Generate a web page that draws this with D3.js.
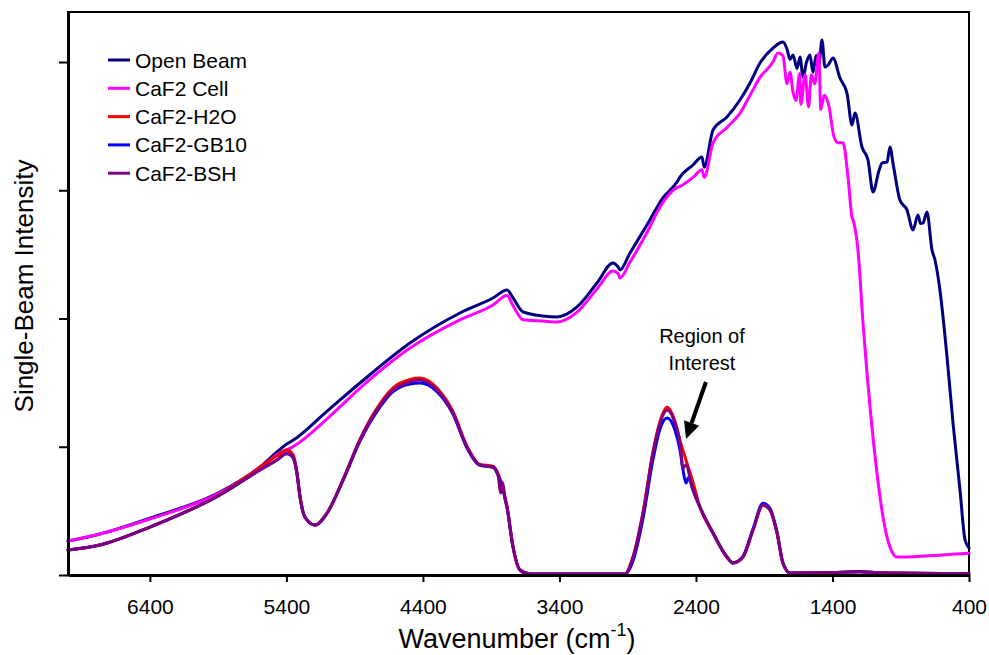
<!DOCTYPE html>
<html>
<head>
<meta charset="utf-8">
<script src="https://cdn.jsdelivr.net/npm/d3@7/dist/d3.min.js"></script>
<style>
  html, body { margin: 0; padding: 0; background: #fff; }
  svg text { font-family: Arial, "Liberation Sans", sans-serif; fill: #000; }
</style>
</head>
<body>
<svg id="chart" width="989" height="655"></svg>
<script>
// Single-beam spectra, [wavenumber (cm-1), intensity (arb. units)]
const openBeam = [
  [7000,0.265],[6766,0.32],[6400,0.444],[5887,0.647],[5594,0.842],[5469,0.959],[5400,1.02],[5352,1.05],
  [5100,1.28],[4861,1.497],[4495,1.809],[4129,2.043],[3887,2.16],[3784,2.222],[3740,2.16],[3667,2.051],
  [3521,2.019],[3418,2.012],[3271,2.09],[3125,2.277],[3008,2.433],[2970,2.40],[2957,2.378],[2883,2.511],
  [2759,2.729],[2642,2.94],[2539,3.064],[2517,3.103],[2422,3.197],[2356,3.259],[2340,3.18],[2275,3.47],
  [2173,3.571],[2078,3.704],[2004,3.836],[1931,3.992],[1836,4.109],[1763,4.156],[1733,4.10],[1711,4.02],
  [1689,4.055],[1660,3.95],[1638,4.04],[1616,3.883],[1590,4.00],[1565,4.055],[1543,3.92],[1520,4.05],
  [1500,3.98],[1477,4.172],[1455,3.961],[1430,3.98],[1396,4.031],[1345,3.875],[1294,3.758],[1257,3.509],
  [1235,3.602],[1184,3.337],[1140,3.236],[1103,2.986],[1060,3.15],[1037,3.212],[1000,3.22],[979,3.337],
  [955,3.20],[906,2.924],[854,2.846],[810,2.69],[774,2.807],[755,2.74],[737,2.745],[708,2.83],[671,2.534],
  [649,2.456],[613,2.222],[561,1.70],[517,1.185],[466,0.663],[429,0.273],[400,0.211]
];
const caf2Cell = [
  [7000,0.265],[6766,0.32],[6400,0.437],[5887,0.64],[5594,0.83],[5469,0.94],[5352,1.0],[5100,1.22],
  [4861,1.458],[4495,1.77],[4129,1.99],[3887,2.105],[3784,2.18],[3740,2.10],[3667,1.99],[3521,1.98],
  [3418,1.973],[3271,2.05],[3125,2.23],[3008,2.37],[2970,2.35],[2957,2.316],[2883,2.44],[2759,2.67],
  [2663,2.87],[2539,3.02],[2517,3.03],[2422,3.10],[2356,3.16],[2340,3.10],[2275,3.37],[2173,3.49],
  [2078,3.60],[2004,3.74],[1931,3.88],[1836,4.00],[1800,4.07],[1763,4.05],[1733,3.83],[1711,3.92],
  [1690,3.77],[1668,3.70],[1640,3.91],[1632,3.67],[1601,3.90],[1575,3.65],[1555,3.90],[1530,3.83],
  [1500,4.07],[1486,3.63],[1460,3.74],[1425,3.65],[1390,3.42],[1360,3.37],[1323,3.37],[1286,3.10],
  [1257,2.79],[1250,2.77],[1213,2.53],[1176,1.96],[1125,1.31],[1074,0.795],[1030,0.452],[979,0.218],
  [927,0.14],[700,0.15],[400,0.17]
];
const caf2H2O = [
  [7000,0.195],[6766,0.234],[6400,0.374],[5887,0.63],[5594,0.84],[5469,0.93],[5396,0.975],[5352,0.94],
  [5323,0.80],[5300,0.608],[5264,0.452],[5191,0.39],[5103,0.483],[4986,0.741],[4861,1.06],[4737,1.30],
  [4619,1.46],[4495,1.525],[4422,1.536],[4297,1.458],[4180,1.275],[4077,1.005],[3982,0.862],[3887,0.848],
  [3835,0.75],[3784,0.535],[3740,0.218],[3689,0.039],[3616,0.008],[2920,0.008],[2861,0.14],[2788,0.49],
  [2715,0.96],[2663,1.20],[2612,1.31],[2554,1.20],[2517,1.05],[2466,0.873],[2429,0.75],[2371,0.53],
  [2275,0.327],[2173,0.14],[2129,0.094],[2056,0.14],[1982,0.351],[1909,0.546],[1858,0.507],[1806,0.327],
  [1763,0.094],[1711,0.016],[1400,0.02],[1200,0.025],[1000,0.015],[400,0.01]
];
const caf2GB10 = [
  [7000,0.195],[6766,0.234],[6400,0.374],[5887,0.624],[5594,0.819],[5469,0.897],[5396,0.945],[5352,0.915],
  [5323,0.79],[5300,0.605],[5264,0.45],[5191,0.388],[5103,0.48],[4986,0.735],[4861,1.045],[4737,1.275],
  [4619,1.43],[4495,1.49],[4422,1.497],[4297,1.43],[4180,1.255],[4077,0.99],[3982,0.855],[3887,0.84],
  [3835,0.735],[3784,0.525],[3740,0.218],[3689,0.039],[3616,0.008],[2920,0.008],[2861,0.11],[2788,0.44],
  [2715,0.90],[2663,1.14],[2612,1.224],[2554,1.13],[2517,0.975],[2495,0.82],[2473,0.717],[2451,0.764],
  [2429,0.686],[2371,0.53],[2275,0.327],[2173,0.14],[2129,0.094],[2056,0.145],[1982,0.36],[1909,0.56],
  [1858,0.52],[1806,0.33],[1763,0.094],[1711,0.016],[1400,0.02],[1200,0.025],[1000,0.015],[400,0.01]
];
const caf2BSH = [
  [7000,0.195],[6766,0.234],[6400,0.374],[5887,0.624],[5594,0.819],[5469,0.897],[5396,0.951],[5352,0.92],
  [5323,0.795],[5300,0.608],[5264,0.452],[5191,0.39],[5103,0.483],[4986,0.741],[4861,1.053],[4737,1.287],
  [4619,1.442],[4495,1.505],[4422,1.52],[4297,1.442],[4180,1.263],[4077,0.998],[3982,0.858],[3887,0.842],
  [3850,0.78],[3830,0.64],[3815,0.72],[3800,0.60],[3784,0.53],[3740,0.218],[3689,0.039],[3616,0.008],
  [2920,0.008],[2861,0.14],[2788,0.483],[2715,0.951],[2663,1.185],[2612,1.287],[2554,1.185],[2517,1.029],
  [2495,0.834],[2473,0.858],[2429,0.686],[2371,0.53],[2275,0.327],[2173,0.14],[2129,0.094],[2056,0.14],
  [1982,0.351],[1909,0.546],[1858,0.507],[1806,0.327],[1763,0.094],[1711,0.016],[1400,0.02],[1200,0.025],
  [1000,0.015],[400,0.01]
];

const seriesNames  = ["Open Beam", "CaF2 Cell", "CaF2-H2O", "CaF2-GB10", "CaF2-BSH"];
const seriesColors = ["#000080", "#FF00FF", "#FF0000", "#0000FF", "#800080"];
const seriesData   = [openBeam, caf2Cell, caf2H2O, caf2GB10, caf2BSH];

const xTicks = [6400, 5400, 4400, 3400, 2400, 1400, 400];
const yTicks = [0, 1, 2, 3, 4];

// Annotation anchor points in data units
const noteText  = ["Region of", "Interest"];
const noteX     = 2356;
const noteY     = [1.809, 1.598];
const arrowTail = [2327, 1.505];
const arrowTip  = [2473, 1.06];

const svg = d3.select("#chart");
const plot = { left: 68, right: 969, top: 12, bottom: 575 };

const x = d3.scaleLinear().domain([7000, 400]).range([plot.left, plot.right]);
const y = d3.scaleLinear().domain([0, 4.39]).range([plot.bottom, plot.top]);

// frame
svg.append("rect")
  .attr("x", plot.left).attr("y", plot.top)
  .attr("width", plot.right - plot.left).attr("height", plot.bottom - plot.top)
  .attr("fill", "none").attr("stroke", "#000").attr("stroke-width", 2);

// curves
const line = d3.line()
  .x(d => x(d[0])).y(d => y(d[1]))
  .curve(d3.curveMonotoneX);

const g = svg.append("g");
seriesData.forEach((data, i) => {
  g.append("path")
    .datum(data)
    .attr("d", line)
    .attr("fill", "none")
    .attr("stroke", seriesColors[i])
    .attr("stroke-width", 3)
    .attr("stroke-linejoin", "round")
    .attr("stroke-linecap", "round");
});

// x axis
const xAxis = svg.append("g")
  .attr("transform", `translate(0,${plot.bottom})`)
  .call(d3.axisBottom(x).tickValues(xTicks).tickSize(7).tickSizeOuter(0).tickFormat(d3.format("d")));
xAxis.select(".domain").attr("stroke-width", 3);
xAxis.selectAll(".tick line").attr("stroke-width", 2);
xAxis.selectAll(".tick text")
  .attr("y", 39).attr("dy", 0)
  .style("font-size", "21px")
  .style("font-family", "Arial, 'Liberation Sans', sans-serif");

// y axis (unlabelled ticks)
const yAxis = svg.append("g")
  .attr("transform", `translate(${plot.left},0)`)
  .call(d3.axisLeft(y).tickValues(yTicks).tickSize(9).tickSizeOuter(0).tickFormat(""));
yAxis.select(".domain").attr("stroke-width", 3);
yAxis.selectAll(".tick line").attr("stroke-width", 2);

// axis titles
const xTitle = svg.append("text")
  .attr("x", 517).attr("y", 648)
  .attr("text-anchor", "middle")
  .style("font-size", "27px");
xTitle.append("tspan").text("Wavenumber (cm");
xTitle.append("tspan").attr("dy", -12).style("font-size", "18px").text("-1");
xTitle.append("tspan").attr("dy", 12).text(")");

svg.append("text")
  .attr("transform", "translate(33,286) rotate(-90)")
  .attr("text-anchor", "middle")
  .style("font-size", "26px")
  .text("Single-Beam Intensity");

// legend
const legend = svg.append("g").attr("transform", "translate(108,60)");
seriesNames.forEach((name, i) => {
  const row = legend.append("g").attr("transform", `translate(0,${i * 28.3})`);
  row.append("line")
    .attr("x1", 0).attr("x2", 22).attr("y1", 0).attr("y2", 0)
    .attr("stroke", seriesColors[i]).attr("stroke-width", 3);
  row.append("text")
    .attr("x", 27).attr("y", 7.5)
    .style("font-size", "21px")
    .text(name);
});

// annotation
noteText.forEach((t, i) => {
  svg.append("text")
    .attr("x", x(noteX)).attr("y", y(noteY[i]))
    .attr("text-anchor", "middle")
    .style("font-size", "20px")
    .text(t);
});

const tx = x(arrowTip[0]), ty = y(arrowTip[1]);
const sx = x(arrowTail[0]), sy = y(arrowTail[1]);
const ang = Math.atan2(ty - sy, tx - sx);
const headLen = 17, headHalf = 8;
const bx = tx - headLen * Math.cos(ang), by = ty - headLen * Math.sin(ang);
svg.append("line")
  .attr("x1", sx).attr("y1", sy).attr("x2", bx).attr("y2", by)
  .attr("stroke", "#000").attr("stroke-width", 4);
svg.append("path")
  .attr("d", d3.line()([
    [tx, ty],
    [bx + headHalf * Math.sin(ang), by - headHalf * Math.cos(ang)],
    [bx - headHalf * Math.sin(ang), by + headHalf * Math.cos(ang)]
  ]) + "Z")
  .attr("fill", "#000");
</script>
</body>
</html>
